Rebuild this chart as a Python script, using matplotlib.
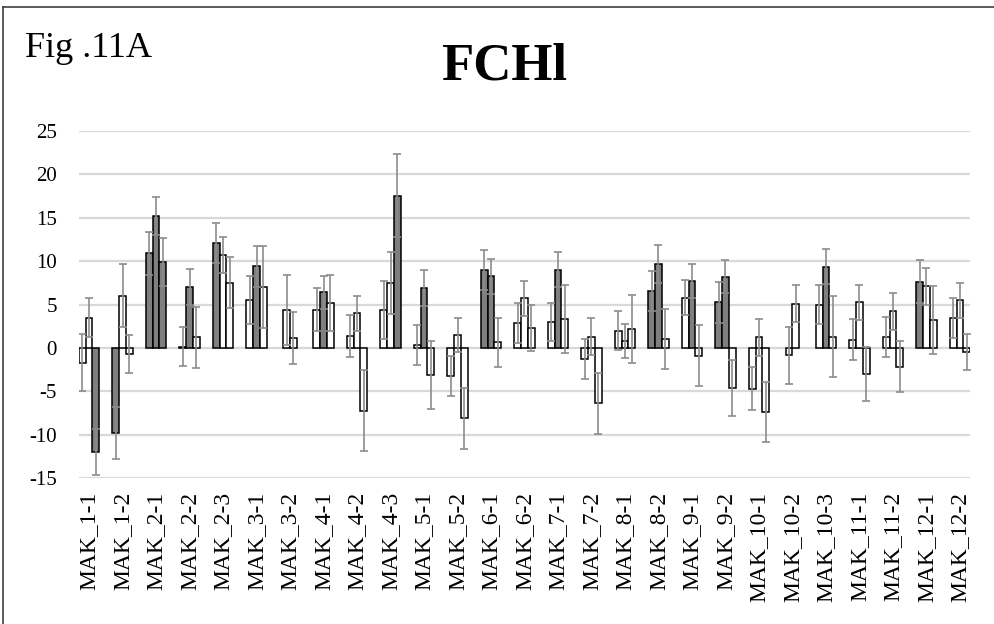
import numpy as np
import matplotlib
matplotlib.use("Agg")
import matplotlib.pyplot as plt

plt.rcParams["axes.unicode_minus"] = False

categories = ["MAK_1-1", "MAK_1-2", "MAK_2-1", "MAK_2-2", "MAK_2-3", "MAK_3-1", "MAK_3-2",
              "MAK_4-1", "MAK_4-2", "MAK_4-3", "MAK_5-1", "MAK_5-2", "MAK_6-1", "MAK_6-2",
              "MAK_7-1", "MAK_7-2", "MAK_8-1", "MAK_8-2", "MAK_9-1", "MAK_9-2", "MAK_10-1",
              "MAK_10-2", "MAK_10-3", "MAK_11-1", "MAK_11-2", "MAK_12-1", "MAK_12-2"]

nan = np.nan
# three bars per sample (NaN = bar absent)
bar1 = [-1.7, -9.8, 10.9, 0.15, 12.1, 5.5, 4.35, 4.4, 1.4, 4.4, 0.35, -3.2, 9.0, 2.85,
        3.0, -1.3, 2.0, 6.6, 5.8, 5.25, -4.7, -0.85, 5.0, 0.95, 1.3, 7.65, 3.4]
bar2 = [3.5, 6.0, 15.2, 7.0, 10.7, 9.4, 1.1, 6.4, 4.0, 7.5, 6.9, 1.5, 8.25, 5.7,
        9.0, 1.3, 0.8, 9.7, 7.7, 8.2, 1.2, 5.1, 9.35, 5.25, 4.2, 7.1, 5.5]
bar3 = [-12.0, -0.7, 9.9, 1.2, 7.5, 7.0, nan, 5.2, -7.25, 17.55, -3.1, -8.1, 0.65, 2.3,
        3.3, -6.4, 2.2, 1.0, -0.9, -4.6, -7.4, nan, 1.3, -3.0, -2.15, 3.25, -0.5]

err1 = [3.3, 3.0, 2.5, 2.25, 2.3, 2.75, 4.0, 2.45, 2.4, 3.35, 2.3, 2.3, 2.3, 2.3,
        2.2, 2.3, 2.2, 2.3, 2.0, 2.35, 2.45, 3.3, 2.3, 2.35, 2.3, 2.45, 2.3]
err2 = [2.2, 3.65, 2.2, 2.05, 2.1, 2.4, 3.0, 1.9, 2.0, 3.6, 2.05, 2.0, 2.0, 2.0,
        2.0, 2.15, 2.0, 2.2, 2.0, 1.9, 2.1, 2.1, 2.0, 2.05, 2.1, 2.1, 2.0]
err3 = [2.6, 2.2, 2.8, 3.5, 2.95, 4.7, nan, 3.2, 4.65, 4.75, 3.9, 3.5, 2.8, 2.65,
        3.9, 3.5, 3.9, 3.45, 3.5, 3.2, 3.5, nan, 4.65, 3.15, 2.95, 3.9, 2.05]

# 1 = dark (filled grey) bar, 0 = white bar
dark1 = [0, 1, 1, 0, 1, 0, 0, 0, 0, 0, 0, 0, 1, 0, 0, 0, 0, 1, 0, 1, 0, 0, 0, 0, 0, 1, 0]
dark2 = [0, 0, 1, 1, 0, 1, 0, 1, 0, 0, 1, 0, 1, 0, 1, 0, 0, 1, 1, 1, 0, 0, 1, 0, 0, 0, 0]
dark3 = [1, 0, 1, 0, 0, 0, 0, 0, 0, 1, 0, 0, 0, 0, 0, 0, 0, 0, 0, 0, 0, 0, 0, 0, 0, 0, 0]

serif = "Liberation Serif"
W, H = 995, 624
fig = plt.figure(figsize=(W / 100, H / 100), dpi=100)
ax = fig.add_axes([79 / W, 1 - 478 / H, (970 - 79) / W, (478 - 131) / H])

bw = 0.2
for i in range(len(categories)):
    vals = [bar1[i], bar2[i], bar3[i]]
    errs = [err1[i], err2[i], err3[i]]
    darks = [dark1[i], dark2[i], dark3[i]]
    idx = [k for k in range(3) if not np.isnan(vals[k])]
    n = len(idx)
    for j, k in enumerate(idx):
        xpos = i + (j - (n - 1) / 2) * bw
        ax.bar(xpos, vals[k], width=bw, color="#7f7f7f" if darks[k] else "white",
               edgecolor="black", linewidth=1.1, zorder=2)
        ax.errorbar(xpos, vals[k], yerr=errs[k], fmt="none", ecolor="#8c8c8c",
                    elinewidth=1.2, capsize=3.0, capthick=1.2, zorder=3)

ax.set_xlim(-0.3, len(categories) - 1 + 0.3)
ax.set_ylim(-15, 25)
ax.set_yticks(np.arange(-15, 26, 5))
ax.set_xticks(np.arange(len(categories)))
ax.set_xticklabels(categories, rotation=90, fontsize=17, family=serif)
for lab in ax.get_yticklabels():
    lab.set_fontfamily(serif)
    lab.set_fontsize(15)
ax.tick_params(axis="both", length=0)
ax.tick_params(axis="y", pad=16)
ax.tick_params(axis="x", pad=10)
ax.yaxis.grid(True, color="#d9d9d9", linewidth=1.6, zorder=0)
ax.set_axisbelow(True)
for sp in ax.spines.values():
    sp.set_visible(False)

fig.text(504 / W, 1 - 80 / H, "FCHl", fontsize=38, fontweight="bold", family=serif,
         ha="center", va="baseline")
fig.text(25 / W, 1 - 57 / H, "Fig .11A", fontsize=26, family=serif,
         ha="left", va="baseline")

# outer frame (left and top edges)
fig.add_artist(plt.Line2D([3 / W, 3 / W], [0, 1 - 7 / H], transform=fig.transFigure,
                          color="#404040", linewidth=1.2))
fig.add_artist(plt.Line2D([3 / W, 1], [1 - 7 / H, 1 - 7 / H], transform=fig.transFigure,
                          color="#404040", linewidth=1.2))

fig.savefig("out.png", dpi=100)
